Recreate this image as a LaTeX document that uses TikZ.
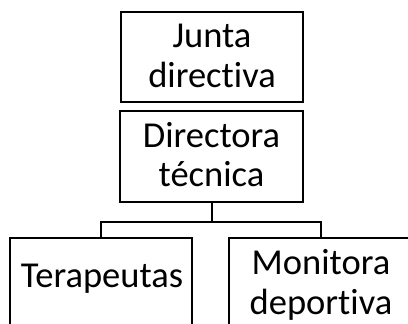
\documentclass[tikz,border=0pt]{standalone}
\usepackage{fontspec}
\setmainfont{Carlito}[Ligatures=NoCommon]
\begin{document}
\begin{tikzpicture}[x=1pt,y=-1pt,
  orgbox/.style={draw=black, line width=2pt, fill=white, inner sep=0pt, minimum height=91pt},
  orgtext/.style={inner sep=0pt, align=center, text depth=0pt,
    font=\fontsize{36.5}{39.5}\selectfont},
  link/.style={draw=black, line width=2pt}]
\useasboundingbox (0,0) rectangle (408,324);
\fill[white] (0,0) rectangle (408,324);
% boxes
\node[orgbox, minimum width=182pt, minimum height=90pt] (junta) at (212,57) {};
\node[orgbox, minimum width=183pt] (dir) at (211.5,156.5) {};
\node[orgbox, minimum width=182pt] (ter) at (101,283.5) {};
\node[orgbox, minimum width=200pt] (mon) at (329,283.5) {};
% texts
\node[orgtext] (juntat) at (212,55.9) {Junta\\directiva};
\node[orgtext] (dirt) at (211.5,154.2) {Directora\\técnica};
\node[orgtext] (tert) at (102,275.4) {Terapeutas};
\node[orgtext] (mont) at (321,281.9) {Monitora\\deportiva};
% connectors
\coordinate (jn) at ([yshift=-19pt]dir.south);
\coordinate (mtop) at (321,238);
\draw[link] (dir.south) -- (jn);
\draw[link] (ter.north) |- (jn) -| (mtop);
\end{tikzpicture}
\end{document}
